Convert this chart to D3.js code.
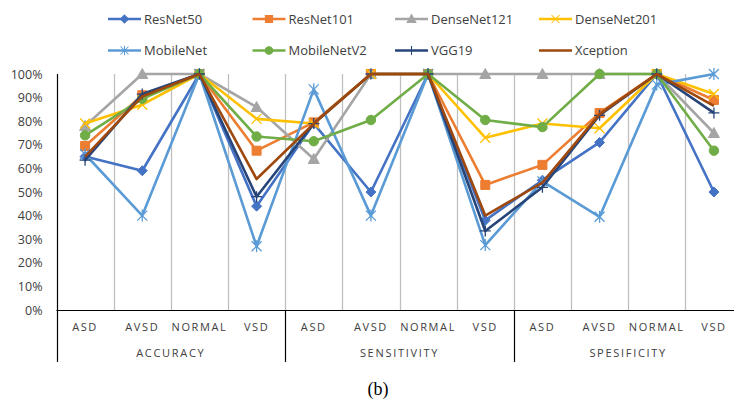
<html>
<head>
<script type="text/javascript" src="https://cdn.jsdelivr.net/npm/d3@7/dist/d3.min.js"></script>
<style>
  body{ margin:0; background:#fff; }
  svg{ display:block; font-family:"Open Sans","Liberation Sans",sans-serif; }
</style>
</head>
<body>
<div id="container"></div>
<script type="text/javascript">

// categories
var groups = ["ACCURACY", "SENSITIVITY", "SPESIFICITY"];
var classes = ["ASD", "AVSD", "NORMAL", "VSD"];
var yTicks = [0, 10, 20, 30, 40, 50, 60, 70, 80, 90, 100];

// series values (%) : accuracy ASD,AVSD,NORMAL,VSD | sensitivity ... | specificity ...
var resnet50    = [65, 59, 100, 44,   79, 50, 100, 38,   55, 71, 100, 50];
var resnet101   = [69.5, 91, 100, 67.5, 79.5, 100, 100, 53,   61.5, 83.5, 100, 89];
var densenet121 = [78, 100, 100, 86,  64, 100, 100, 100,  100, 100, 100, 75];
var densenet201 = [79, 87, 100, 81,   79, 100, 100, 73,   79, 77, 100, 91.5];
var mobilenet   = [66, 40, 100, 27,   93.5, 40, 100, 27.5, 54.5, 39.5, 95.5, 100];
var mobilenetv2 = [74, 89.5, 100, 73.5, 71.5, 80.5, 100, 80.5, 77.5, 100, 100, 67.5];
var vgg19       = [63.5, 91.5, 100, 48, 79, 100, 100, 33.5, 52, 82.5, 100, 83.5];
var xception    = [65, 90.5, 100, 55.5, 79, 100, 100, 40,  54, 83, 100, 86.5];

var seriesNames = ["ResNet50", "ResNet101", "DenseNet121", "DenseNet201",
                   "MobileNet", "MobileNetV2", "VGG19", "Xception"];
var seriesValues = [resnet50, resnet101, densenet121, densenet201,
                    mobilenet, mobilenetv2, vgg19, xception];
var colors = ["#4472C4", "#ED7D31", "#A5A5A5", "#FFC000",
              "#5B9BD5", "#70AD47", "#264478", "#9E480E"];
var markers = ["diamond", "square", "triangle", "x", "star", "circle", "plus", "none"];

var keys = [];
groups.forEach(function(g){ classes.forEach(function(c){ keys.push(g + "|" + c); }); });

var svg = d3.select("#container").append("svg")
  .attr("width", 734).attr("height", 402);

var x = d3.scaleBand().domain(keys).range([56.5, 742.5]);
var y = d3.scaleLinear().domain([0, 100]).range([310, 74]);

// vertical gridlines between categories
svg.append("g").selectAll("line")
  .data(keys.slice(1))
  .enter().append("line")
    .attr("x1", function(d){ return Math.round(x(d)) + 0.5; })
    .attr("x2", function(d){ return Math.round(x(d)) + 0.5; })
    .attr("y1", y(100)).attr("y2", y(0))
    .attr("stroke", "#bfbfbf").attr("stroke-width", 1.3);

// y axis labels
var yAxis = d3.axisLeft(y).tickValues(yTicks).tickSize(0).tickPadding(14)
  .tickFormat(function(d){ return d + "%"; });
var ya = svg.append("g").attr("transform", "translate(56.5,0)").call(yAxis);
ya.select(".domain").remove();
ya.selectAll("text").attr("font-size", 12.5).attr("fill", "#404040")
  .attr("font-family", "'Open Sans','Liberation Sans',sans-serif");

// x axis line and separators
svg.append("line").attr("x1", 56.5).attr("x2", 734).attr("y1", 310.5).attr("y2", 310.5)
  .attr("stroke", "#000").attr("stroke-width", 1.2);
var seps = [keys[0], keys[4], keys[8]];
svg.append("g").selectAll("line").data(seps).enter().append("line")
  .attr("x1", function(d){ return Math.round(x(d)) + 0.5; })
  .attr("x2", function(d){ return Math.round(x(d)) + 0.5; })
  .attr("y1", function(d, i){ return i === 0 ? y(100) : y(0); })
  .attr("y2", 362)
  .attr("stroke", "#000").attr("stroke-width", 1.2);

// category labels
svg.append("g").selectAll("text").data(keys).enter().append("text")
  .attr("x", function(d){ return x(d) + x.bandwidth() / 2; })
  .attr("y", 331)
  .attr("text-anchor", "middle")
  .attr("font-size", 11).attr("letter-spacing", 1.6).attr("fill", "#404040")
  .text(function(d){ return d.split("|")[1]; });

svg.append("g").selectAll("text").data(groups).enter().append("text")
  .attr("x", function(d, i){ return x(keys[i * 4]) + x.bandwidth() * 2; })
  .attr("y", 357)
  .attr("text-anchor", "middle")
  .attr("font-size", 11).attr("letter-spacing", 1.7).attr("fill", "#404040")
  .text(function(d){ return d; });

// marker path builder
function markerPath(type){
  switch(type){
    case "diamond": return "M0,-5L5,0L0,5L-5,0Z";
    case "square": return "M-4.5,-4.5H4.5V4.5H-4.5Z";
    case "triangle": return "M0,-5.5L5.5,4.5H-5.5Z";
    case "circle": return d3.symbol().type(d3.symbolCircle).size(70)();
    case "x": return "M-5,-5L5,5M-5,5L5,-5";
    case "star": return "M-5,-5L5,5M-5,5L5,-5M0,-6V6";
    case "plus": return "M-5.5,0H5.5M0,-5.5V5.5";
  }
  return null;
}
var filled = {diamond:true, square:true, triangle:true, circle:true};

var line = d3.line()
  .x(function(d, i){ return x(keys[i]) + x.bandwidth() / 2; })
  .y(function(d){ return y(d); });

seriesValues.forEach(function(vals, s){
  var g = svg.append("g");
  g.append("path").datum(vals)
    .attr("d", line)
    .attr("fill", "none")
    .attr("stroke", colors[s])
    .attr("stroke-width", 2.6)
    .attr("stroke-linejoin", "round");
  if(markers[s] !== "none"){
    g.selectAll("path.m").data(vals).enter().append("path")
      .attr("class", "m")
      .attr("transform", function(d, i){
        return "translate(" + (x(keys[i]) + x.bandwidth() / 2) + "," + y(d) + ")";
      })
      .attr("d", markerPath(markers[s]))
      .attr("fill", filled[markers[s]] ? colors[s] : "none")
      .attr("stroke", colors[s])
      .attr("stroke-width", filled[markers[s]] ? 1 : 1.3);
  }
});

// legend
var legendX = [108, 252.5, 395, 539];
var legendY = [19, 50.5];
seriesNames.forEach(function(name, s){
  var lx = legendX[s % 4], ly = legendY[Math.floor(s / 4)];
  var g = svg.append("g").attr("transform", "translate(" + lx + "," + ly + ")");
  g.append("line").attr("x1", 0).attr("x2", 33).attr("y1", 0).attr("y2", 0)
    .attr("stroke", colors[s]).attr("stroke-width", 2.6);
  if(markers[s] !== "none"){
    g.append("path").attr("transform", "translate(16.5,0) scale(0.8)")
      .attr("d", markerPath(markers[s]))
      .attr("fill", filled[markers[s]] ? colors[s] : "none")
      .attr("stroke", colors[s]).attr("stroke-width", 1.3);
  }
  g.append("text").attr("x", 36).attr("y", 4.8)
    .attr("font-size", 13).attr("fill", "#404040").text(name);
});

// caption
svg.append("text").attr("x", 378).attr("y", 395)
  .attr("text-anchor", "middle")
  .attr("font-family", "'Liberation Serif','Times New Roman',serif")
  .attr("font-size", 18).attr("fill", "#000").text("(b)");

</script>
</body>
</html>
